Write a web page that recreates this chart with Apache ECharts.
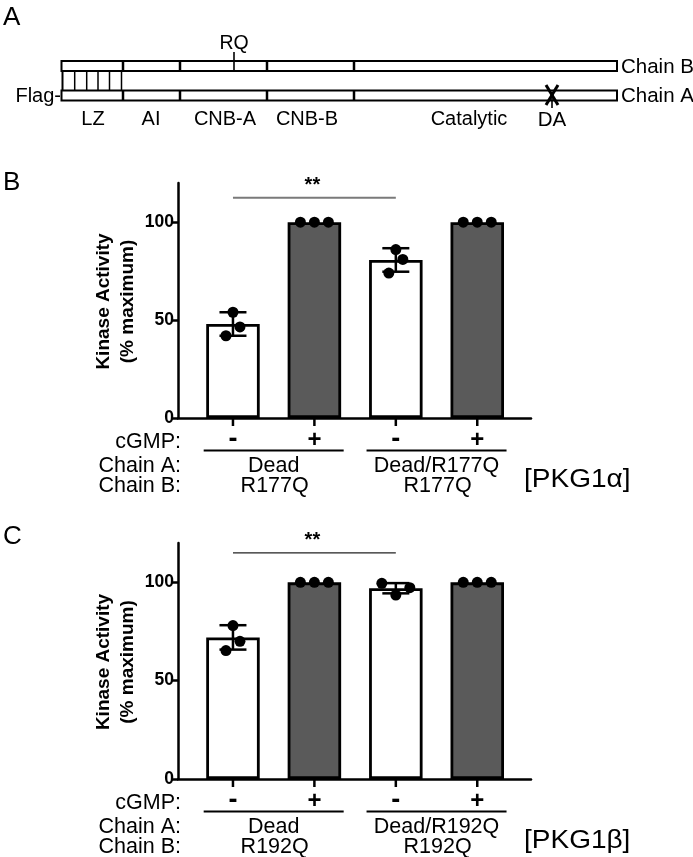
<!DOCTYPE html>
<html><head><meta charset="utf-8">
<script src="https://cdn.jsdelivr.net/npm/echarts@6/dist/echarts.min.js"></script>
<style>html,body{margin:0;padding:0;background:#fff}#c{width:693px;height:857px}</style>
</head><body><div id="c"></div>
<script>
// ---------------- data ----------------
const cgmpSigns = ['-', '+', '-', '+'];
const yTicks = [0, 50, 100];
const yTitle = 'Kinase Activity\n(% maximum)';

const chainALabelsB = ['Dead', 'Dead/R177Q'];
const chainBLabelsB = ['R177Q', 'R177Q'];
const meanB = [48, 100, 80.7, 100];
const sdB = [6, 0, 6, 0];
const pointsB = [[54, 46.5, 42], [100, 100, 100], [86, 81, 74], [100, 100, 100]];
const sigB = [0, 2, 112.5];

const chainALabelsC = ['Dead', 'Dead/R192Q'];
const chainBLabelsC = ['R192Q', 'R192Q'];
const meanC = [72, 100, 97, 100];
const sdC = [6.2, 0, 2.6, 0];
const pointsC = [[78, 70, 65.3], [100, 100, 100], [99.5, 97.3, 93.5], [100, 100, 100]];
const sigC = [0, 2, 115];

const isoforms = ['[PKG1α]', '[PKG1β]'];
const domainNames = ['LZ', 'AI', 'CNB-A', 'CNB-B', 'Catalytic'];

// ---------------- style / layout ----------------
const FONT = '"Liberation Sans", Arial, sans-serif';
const XMIN = -0.675, XMAX = 3.66;
const GRID_LEFT = 178, GRID_W = 353;
const PX_PER_UNIT = GRID_W / (XMAX - XMIN);
const gridTops = [183, 543], gridHeights = [235, 236];
const jitterPx = [
  [[0, 7, -7], [-14, 0, 14], [0, 7, -7], [-14, 0, 14]],
  [[0, 7, -7], [-14, 0, 14], [-14, 14, 0], [-14, 0, 14]]
];
const sigStyle = [{color: '#7a7a7a', w: 2}, {color: '#222', w: 1.3}];

const panels = [
  {mean: meanB, sd: sdB, pts: pointsB, sig: sigB, a: chainALabelsB, b: chainBLabelsB},
  {mean: meanC, sd: sdC, pts: pointsC, sig: sigC, a: chainALabelsC, b: chainBLabelsC}
];

const chart = echarts.init(document.getElementById('c'), null, {renderer: 'canvas'});

const grids = [], xAxes = [], yAxes = [], series = [];
panels.forEach((p, g) => {
  grids.push({left: GRID_LEFT, top: gridTops[g], width: GRID_W, height: gridHeights[g], containLabel: false});
  xAxes.push({
    type: 'value', gridIndex: g, min: XMIN, max: XMAX,
    splitLine: {show: false},
    axisLine: {show: true, onZero: false, lineStyle: {color: '#000', width: 2.5}},
    axisTick: {show: false},
    axisLabel: {show: false}
  });
  yAxes.push({
    type: 'value', gridIndex: g, min: 0, max: 120,
    splitLine: {show: false},
    axisLine: {show: true, onZero: false, lineStyle: {color: '#000', width: 2.5}},
    axisTick: {show: true, customValues: yTicks, length: 6, lineStyle: {color: '#000', width: 2.5}},
    axisLabel: {customValues: yTicks, color: '#000', fontFamily: FONT, fontWeight: 'bold', fontSize: 17.5, margin: 4}
  });
  series.push({
    type: 'bar', xAxisIndex: g, yAxisIndex: g, barWidth: 53.5, z: 2,
    data: p.mean.map((v, i) => ({
      value: [i, v],
      itemStyle: {color: cgmpSigns[i] === '+' ? '#5a5a5a' : '#ffffff', borderColor: '#000', borderWidth: 2.8}
    }))
  });
  series.push({
    type: 'custom', xAxisIndex: g, yAxisIndex: g, z: 3,
    data: p.mean.map((v, i) => [i, v - p.sd[i], v + p.sd[i]]).filter((d, i) => p.sd[i] > 0),
    renderItem: (params, api) => {
      const lo = api.coord([api.value(0), api.value(1)]);
      const hi = api.coord([api.value(0), api.value(2)]);
      const cw = 13.5;
      const st = {stroke: '#000', lineWidth: 2.5};
      return {type: 'group', children: [
        {type: 'line', shape: {x1: lo[0], y1: lo[1], x2: hi[0], y2: hi[1]}, style: st},
        {type: 'line', shape: {x1: lo[0] - cw, y1: lo[1], x2: lo[0] + cw, y2: lo[1]}, style: st},
        {type: 'line', shape: {x1: hi[0] - cw, y1: hi[1], x2: hi[0] + cw, y2: hi[1]}, style: st}
      ]};
    }
  });
  const sc = [];
  p.pts.forEach((arr, i) => arr.forEach((v, k) => sc.push([i + jitterPx[g][i][k] / PX_PER_UNIT, v])));
  series.push({
    type: 'scatter', xAxisIndex: g, yAxisIndex: g, z: 4, symbolSize: 11,
    itemStyle: {color: '#000', opacity: 1}, data: sc
  });
  series.push({
    type: 'custom', xAxisIndex: g, yAxisIndex: g, z: 5,
    data: [p.sig],
    renderItem: (params, api) => {
      const a = api.coord([api.value(0), api.value(2)]);
      const b = api.coord([api.value(1), api.value(2)]);
      return {type: 'group', children: [
        {type: 'line', shape: {x1: a[0], y1: a[1], x2: b[0], y2: b[1]},
          style: {stroke: sigStyle[g].color, lineWidth: sigStyle[g].w}},
        {type: 'text', x: (a[0] + b[0]) / 2 - 2, y: a[1] - 2,
          style: {text: '**', fill: '#000', font: 'bold 20px ' + FONT, align: 'center', verticalAlign: 'bottom'}}
      ]};
    }
  });
});

chart.setOption({
  animation: false,
  backgroundColor: '#fff',
  grid: grids, xAxis: xAxes, yAxis: yAxes, series: series
});

// ---------------- annotations ----------------
const els = [];
function txt(x, y, text, size, opts) {
  opts = opts || {};
  els.push({type: 'text', x: x, y: y, z: 10, scaleX: opts.scaleX || 1, rotation: opts.rotation || 0,
    style: {text: text, fill: '#000', font: (opts.bold ? 'bold ' : '') + size + 'px ' + FONT,
      lineHeight: opts.lineHeight, align: opts.align || 'center', verticalAlign: 'middle'}});
}
function line(x1, y1, x2, y2, w) {
  els.push({type: 'line', z: 20, shape: {x1: x1, y1: y1, x2: x2, y2: y2}, style: {stroke: '#000', lineWidth: w}});
}
function rect(x, y, w, h) {
  els.push({type: 'rect', z: 9, shape: {x: x, y: y, width: w, height: h}, style: {fill: '#fff', stroke: '#000', lineWidth: 2}});
}

// panel letters
txt(3, 18, 'A', 26, {align: 'left'});
txt(3, 183, 'B', 26, {align: 'left'});
txt(3, 537, 'C', 26, {align: 'left'});

// panel A schematic
const dx0 = 61.5, dx1 = 617, yB = 61, yA = 90.5, bh = 10;
rect(dx0, yB, dx1 - dx0, bh);
rect(dx0, yA, dx1 - dx0, bh);
[123, 180, 267, 354].forEach(x => { line(x, yB, x, yB + bh, 2.5); line(x, yA, x, yA + bh, 2.5); });
[62.5, 74.7, 86.7, 98, 109.5, 121.5].forEach((x, i) => line(x, yB + bh, x, yA, i === 0 ? 2 : 1.5));
line(234, 52, 234, yB + bh, 1.6);
txt(234, 44, 'RQ', 19.5);
line(546, 85, 558, 105, 3);
line(558, 85, 546, 105, 3);
line(552, 95, 552, 108, 1.6);
txt(552, 120, 'DA', 20.5);
[93, 151, 225, 307, 469].forEach((x, i) => txt(x, 119, domainNames[i], 20));
txt(61, 96, 'Flag-', 20, {align: 'right'});
txt(621, 67, 'Chain B', 20.5, {align: 'left'});
txt(621, 96, 'Chain A', 20.5, {align: 'left'});

// y titles, x ticks and labels under bar charts
panels.forEach((p, g) => {
  const ax = i => chart.convertToPixel({gridIndex: g}, [i, 0]);
  const base = ax(0)[1];
  const top = chart.convertToPixel({gridIndex: g}, [0, 120])[1];
  txt(116, (base + top) / 2 + 1, yTitle, 19, {bold: true, rotation: Math.PI / 2, lineHeight: 24});
  [0, 1, 2, 3].forEach(i => line(ax(i)[0], base + 1, ax(i)[0], base + 8, 2.5));
  txt(181, base + 24.5, 'cGMP:', 21.5, {align: 'right'});
  txt(181, base + 48.5, 'Chain A:', 21.5, {align: 'right'});
  txt(181, base + 68.5, 'Chain B:', 21.5, {align: 'right'});
  cgmpSigns.forEach((s, i) => txt(ax(i)[0], base + 22, s, s === '-' ? 27 : 24, {bold: true}));
  [0, 1].forEach(k => {
    const cx = (ax(2 * k)[0] + ax(2 * k + 1)[0]) / 2;
    line(cx - 70, base + 32.5, cx + 70, base + 32.5, 1.8);
    txt(cx, base + 48.5, p.a[k], 21.5);
    txt(cx + 1, base + 68.5, p.b[k], 21.5);
  });
  txt(524, base + 62, isoforms[g], 25, {align: 'left', scaleX: 1.12});
});

chart.setOption({graphic: {elements: els}});
</script>
</body></html>
